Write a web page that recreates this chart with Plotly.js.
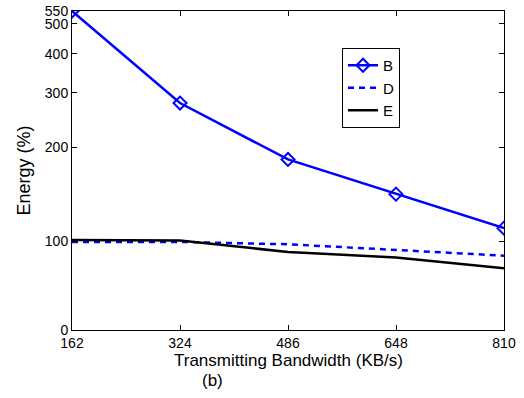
<!DOCTYPE html>
<html>
<head>
<meta charset="utf-8">
<script src="https://cdn.plot.ly/plotly-3.0.1.min.js"></script>
<style>html,body{margin:0;padding:0;background:#fff;}#chart{width:524px;height:398px;}</style>
</head>
<body>
<div id="chart"></div>
<script>
const bandwidth = [162, 324, 486, 648, 810];
const seriesB = [550, 278, 183, 141.5, 110];
const seriesD = [99.3, 99.3, 97.6, 93.6, 89.7];
const seriesE = [100.7, 100.3, 92.2, 88.5, 81.7];
const yTickVals = [51.7, 100, 200, 300, 400, 500, 550];
const yTickText = ['0', '100', '200', '300', '400', '500', '550'];
const xTickVals = [162, 324, 486, 648, 810];
const xTitle = 'Transmitting Bandwidth (KB/s)';
const yTitle = 'Energy (%)';
const subLabel = '(b)';

const fontFam = 'Liberation Sans, Arial, Helvetica, sans-serif';
const traces = [
  {x: bandwidth, y: seriesB, name: 'B', mode: 'lines+markers', type: 'scatter',
   line: {color: '#0000ff', width: 2.5},
   marker: {symbol: 'diamond-open', size: 10, color: '#0000ff', line: {width: 2, color: '#0000ff'}}},
  {x: bandwidth, y: seriesD, name: 'D', mode: 'lines', type: 'scatter',
   line: {color: '#0000ff', width: 2.5, dash: '6px,5px'}},
  {x: bandwidth, y: seriesE, name: 'E', mode: 'lines', type: 'scatter',
   line: {color: '#000000', width: 2.5}}
];
const layout = {
  width: 524, height: 398,
  margin: {l: 72, r: 20, t: 11, b: 68},
  paper_bgcolor: '#fff', plot_bgcolor: '#fff',
  font: {family: fontFam, size: 14, color: '#000'},
  showlegend: true,
  legend: {x: (342-72)/432, xref: 'paper', y: (330-48)/319, yanchor: 'top', xanchor: 'left',
    bordercolor: '#000', borderwidth: 1, bgcolor: '#fff', font: {size: 15},
    tracegroupgap: 0, itemwidth: 30},
  xaxis: {
    range: [162, 810], tickvals: xTickVals, ticktext: xTickVals.map(String),
    ticks: 'inside', ticklen: 5, tickwidth: 1, tickcolor: '#000',
    tickfont: {size: 14},
    showline: true, linecolor: '#000', linewidth: 1, mirror: 'ticks',
    showgrid: false, zeroline: false
  },
  yaxis: {
    type: 'log', range: [Math.log10(51.7), Math.log10(550)],
    tickvals: yTickVals, ticktext: yTickText,
    ticks: 'inside', ticklen: 5, tickwidth: 1, tickcolor: '#000',
    tickfont: {size: 14},
    showline: true, linecolor: '#000', linewidth: 1, mirror: 'ticks',
    showgrid: false, zeroline: false,
    title: {text: yTitle, font: {size: 18}, standoff: 9}
  },
  annotations: [
    {text: xTitle, xref: 'paper', yref: 'paper', x: 0.5, y: -(360-330)/319,
     showarrow: false, font: {size: 17}, xanchor: 'center', yanchor: 'middle'},
    {text: subLabel, xref: 'paper', yref: 'paper', x: (212-72)/432, y: -(380-330)/319,
     showarrow: false, font: {size: 17}, xanchor: 'center', yanchor: 'middle'}
  ]
};
Plotly.newPlot('chart', traces, layout, {displayModeBar: false, staticPlot: true});
</script>
</body>
</html>
